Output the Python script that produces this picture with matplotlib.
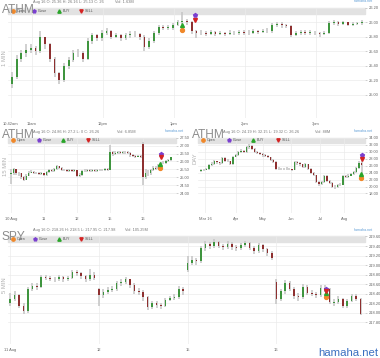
import matplotlib
matplotlib.use("Agg")
import matplotlib.pyplot as plt
import numpy as np
from matplotlib.patches import Rectangle
from matplotlib.lines import Line2D

W, H = 380, 358

# ---- ATHM 1 min (x in minutes after midnight, one candle per 4 min)
t1 = np.arange(643, 643 + 4 * 75, 4)
c1 = [25.25, 25.5, 25.58, 25.62, 25.65, 25.6, 25.8, 25.7, 25.5, 25.3,
      25.2, 25.4, 25.48, 25.58, 25.58, 25.5, 25.75, 25.82, 25.78, 25.86,
      25.88, 25.8, 25.82, 25.78, 25.82, 25.84, 25.84, 25.8, 25.66, 25.74,
      25.85, 25.94, 25.93, 25.93, 25.97, 26.0, 26.02, 26.0, 25.88, 25.85,
      25.86, 25.84, 25.87, 25.84, 25.85, 25.84, 25.86, 25.85, 25.87, 25.85,
      25.86, 25.88, 25.87, 25.88, 25.88, 25.96, 25.98, 25.96, 25.95, 25.83,
      25.85, 25.87, 25.86, 25.86, 25.85, 25.84, 25.86, 25.99, 26.0, 25.98,
      26.0, 25.97, 25.98, 25.99, 26.0]
hi1 = [25.32, 25.55, 25.62, 25.7, 25.7, 25.68, 25.88, 25.8, 25.72, 25.52,
       25.32, 25.44, 25.52, 25.62, 25.64, 25.6, 25.78, 25.86, 25.84, 25.9,
       25.92, 25.9, 25.86, 25.84, 25.86, 25.88, 25.88, 25.86, 25.82, 25.78,
       25.88, 25.96, 25.97, 25.96, 25.99, 26.03, 26.15, 26.05, 26.02, 25.9,
       25.89, 25.88, 25.9, 25.88, 25.88, 25.87, 25.89, 25.88, 25.9, 25.89,
       25.89, 25.91, 25.9, 25.91, 25.92, 25.99, 26.01, 26.0, 25.98, 25.96,
       25.88, 25.9, 25.89, 25.89, 25.88, 25.87, 25.88, 26.02, 26.03, 26.02,
       26.02, 26.01, 26.0, 26.01, 26.03]
lo1 = [25.1, 25.22, 25.45, 25.52, 25.58, 25.55, 25.58, 25.64, 25.45, 25.25,
       25.15, 25.18, 25.36, 25.45, 25.52, 25.45, 25.48, 25.7, 25.74, 25.75,
       25.82, 25.77, 25.78, 25.74, 25.76, 25.79, 25.8, 25.76, 25.6, 25.63,
       25.72, 25.83, 25.9, 25.9, 25.9, 25.95, 25.98, 25.96, 25.84, 25.79,
       25.82, 25.81, 25.82, 25.81, 25.82, 25.81, 25.82, 25.82, 25.83, 25.82,
       25.83, 25.84, 25.84, 25.85, 25.85, 25.86, 25.94, 25.93, 25.92, 25.8,
       25.81, 25.83, 25.83, 25.83, 25.82, 25.8, 25.82, 25.84, 25.96, 25.95,
       25.96, 25.95, 25.95, 25.96, 25.97]
gap1 = {0: 25.15}
m1_x = [787, 798, 787, 798]            # open, close, buy, sell
m1_y = [25.89, 26.10, 25.96, 26.04]
x1_ticks = [642, 660, 720, 780, 840, 900]
x1_labels = ["10:42am", "11am", "12pm", "1pm", "2pm", "3pm"]

# ---- ATHM 15 min (13 candles per day)
c2 = [25.3, 25.5, 25.3, 25.25, 25.0, 24.85, 25.1, 25.3, 25.35, 25.25, 25.28, 25.22, 25.25,
      25.15, 25.35, 25.45, 25.42, 25.5, 25.7, 25.6, 25.45, 25.48, 25.42, 25.45, 25.4, 25.45,
      25.1, 25.15, 25.4, 25.42, 25.45, 25.4, 25.45, 25.42, 25.45, 25.48, 25.45, 25.5, 25.48,
      26.6, 26.45, 26.55, 26.6, 26.55, 26.6, 26.58, 26.55, 26.4, 26.35, 26.3, 26.35, 26.3,
      25.0, 25.3, 25.25, 25.45, 25.6, 25.55, 25.8, 25.9, 25.92, 26.05, 26.1, 26.26]
hi2 = [25.55, 25.6, 25.55, 25.35, 25.3, 25.05, 25.2, 25.38, 25.45, 25.38, 25.35, 25.32, 25.32,
       25.3, 25.42, 25.52, 25.52, 25.58, 25.78, 25.72, 25.62, 25.55, 25.52, 25.52, 25.5, 25.5,
       25.45, 25.25, 25.45, 25.5, 25.52, 25.5, 25.5, 25.5, 25.52, 25.55, 25.55, 25.56, 25.56,
       27.05, 26.65, 26.65, 26.68, 26.66, 26.68, 26.66, 26.64, 26.58, 26.45, 26.42, 26.42, 26.4,
       27.2, 25.5, 25.45, 25.55, 25.7, 25.7, 25.85, 25.95, 26.0, 26.1, 26.15, 26.3]
lo2 = [24.55, 25.15, 25.15, 25.1, 24.9, 24.75, 24.82, 25.05, 25.25, 25.18, 25.18, 25.12, 25.15,
       25.05, 25.1, 25.3, 25.35, 25.35, 25.45, 25.5, 25.4, 25.38, 25.35, 25.35, 25.32, 25.35,
       25.0, 25.02, 25.1, 25.32, 25.35, 25.32, 25.35, 25.35, 25.35, 25.38, 25.38, 25.4, 25.4,
       25.45, 26.35, 26.4, 26.48, 26.45, 26.5, 26.48, 26.45, 26.3, 26.28, 26.2, 26.25, 26.22,
       24.5, 24.9, 25.1, 25.15, 25.4, 25.45, 25.5, 25.75, 25.82, 25.85, 25.98, 26.05]
gap2 = {0: 25.2, 52: 27.1}
m2_x = [58.6, 59.1, 58.6, 59.1]
m2_y = [25.6, 26.48, 25.85, 26.27]
x2_ticks = [0, 13, 26, 39, 52]
x2_labels = ["10 Aug", "11", "12", "15", "16"]

# ---- ATHM daily (one candle per 2 sessions)
c3 = [24.6, 24.8, 25.0, 26.2, 26.5, 27.2, 26.9, 26.6, 28.3, 27.4,
      27.3, 26.5, 28.6, 28.9, 29.8, 30.3, 29.9, 31.2, 31.7, 30.9,
      29.9, 29.7, 29.3, 29.0, 28.7, 28.5, 27.6, 27.0, 25.0, 25.1,
      24.9, 25.0, 25.1, 24.9, 24.7, 26.9, 26.7, 26.4, 25.6, 26.4,
      25.0, 24.0, 23.2, 21.2, 20.6, 21.2, 23.0, 21.5, 21.0, 20.0,
      19.8, 20.3, 20.5, 23.0, 22.6, 23.1, 23.6, 24.2, 25.3, 26.8,
      26.26]
hi3 = [25.0, 25.1, 25.3, 26.5, 26.9, 27.6, 27.4, 27.1, 28.6, 28.4,
       27.8, 27.4, 28.8, 29.3, 30.1, 30.8, 30.5, 31.5, 32.15, 31.8,
       31.0, 30.2, 29.8, 29.6, 29.2, 28.9, 28.6, 27.8, 27.2, 25.5,
       25.4, 25.4, 25.5, 25.3, 25.1, 27.2, 27.3, 27.0, 26.5, 26.7,
       26.5, 25.2, 24.2, 23.4, 21.5, 21.6, 23.4, 23.2, 21.8, 21.2,
       20.4, 20.6, 20.9, 23.3, 23.3, 23.5, 24.0, 24.5, 25.6, 27.2,
       28.3]
lo3 = [24.3, 24.4, 24.6, 24.8, 26.0, 26.3, 26.5, 26.2, 26.4, 27.1,
       26.9, 26.2, 26.3, 28.4, 28.7, 29.5, 29.6, 29.7, 30.9, 30.5,
       29.6, 29.3, 28.9, 28.6, 28.4, 28.2, 27.3, 26.7, 24.7, 24.7,
       24.6, 24.6, 24.7, 24.6, 24.4, 24.6, 26.3, 26.0, 25.3, 25.4,
       24.7, 23.7, 22.9, 20.9, 20.2, 20.3, 21.0, 21.2, 20.6, 19.6,
       19.32, 19.6, 20.1, 20.3, 22.3, 22.4, 22.9, 23.4, 24.0, 25.1,
       23.2]
gap3 = {0: 24.4}
m3_x = [59.6, 59.95, 59.6, 59.95]
m3_y = [22.5, 28.9, 23.6, 27.9]
x3_ticks = [1.5, 13.1, 23.1, 33.6, 44.4, 53.4]
x3_labels = ["Mar 16", "Apr", "May", "Jun", "Jul", "Aug"]

# ---- SPY 5 min (20 candles per day)
c4 = [218.3, 218.38, 218.15, 218.05, 218.5, 218.56, 218.55, 218.75, 218.74, 218.72,
      218.7, 218.76, 218.7, 218.74, 218.86, 218.84, 218.77, 218.7, 218.8, 218.74,
      218.38, 218.44, 218.49, 218.5, 218.62, 218.64, 218.7, 218.58, 218.46, 218.44,
      218.33, 218.12, 218.2, 218.16, 218.14, 218.27, 218.32, 218.34, 218.5, 218.45,
      219.05, 219.1, 219.08, 219.35, 219.45, 219.4, 219.48, 219.4, 219.38, 219.45,
      219.38, 219.36, 219.42, 219.46, 219.36, 219.3, 219.42, 219.33, 219.26, 219.15,
      218.3, 218.45, 218.62, 218.5, 218.36, 218.33, 218.55, 218.42, 218.4, 218.38,
      218.52, 218.5, 218.22, 218.22, 218.3, 218.15, 218.25, 218.36, 218.3, 217.98]
hi4 = [218.42, 218.45, 218.4, 218.2, 218.55, 218.62, 218.62, 218.8, 218.8, 218.78,
       218.76, 218.8, 218.78, 218.78, 218.9, 218.9, 218.86, 218.8, 218.92, 218.85,
       218.52, 218.5, 218.54, 218.56, 218.66, 218.7, 218.75, 218.72, 218.62, 218.52,
       218.48, 218.36, 218.26, 218.24, 218.2, 218.32, 218.36, 218.4, 218.56, 218.55,
       219.2, 219.2, 219.15, 219.4, 219.5, 219.48, 219.54, 219.5, 219.44, 219.5,
       219.48, 219.42, 219.46, 219.5, 219.48, 219.4, 219.46, 219.45, 219.36, 219.3,
       218.7, 218.5, 218.68, 218.66, 218.54, 218.42, 218.6, 218.58, 218.48, 218.44,
       218.58, 218.58, 218.52, 218.3, 218.35, 218.32, 218.3, 218.4, 218.4, 218.32]
lo4 = [218.15, 218.25, 218.1, 217.98, 218.0, 218.45, 218.48, 218.52, 218.68, 218.66,
       218.64, 218.66, 218.64, 218.66, 218.7, 218.78, 218.72, 218.64, 218.66, 218.68,
       218.15, 218.32, 218.4, 218.44, 218.46, 218.56, 218.6, 218.52, 218.4, 218.38,
       218.26, 218.06, 218.08, 218.1, 218.08, 218.12, 218.24, 218.28, 218.3, 218.38,
       218.85, 219.0, 219.0, 219.04, 219.3, 219.34, 219.36, 219.35, 219.32, 219.34,
       219.32, 219.3, 219.32, 219.38, 219.32, 219.24, 219.26, 219.28, 219.2, 219.1,
       218.18, 218.24, 218.4, 218.45, 218.3, 218.26, 218.3, 218.38, 218.35, 218.32,
       218.34, 218.44, 218.18, 218.15, 218.18, 218.1, 218.1, 218.22, 218.26, 217.95]
gap4 = {0: 218.2, 20: 218.5, 40: 218.9, 60: 218.65}
m4_x = [71.3, 71.3, 71.3, 71.3]
m4_y = [218.33, 218.51, 218.42, 218.45]
x4_ticks = [0, 20, 40, 60]
x4_labels = ["11 Aug", "12", "15", "16"]

UP, DOWN, WICK = "#3f953f", "#8e3030", "#c4c4c4"
MK = [("o", "#f0882a"), ("p", "#7a3fcf"), ("^", "#2aa52a"), ("v", "#d42424")]
LEG = ["Open", "Close", "BUY", "SELL"]

plt.rcParams["font.family"] = ["Liberation Sans", "DejaVu Sans"]
fig = plt.figure(figsize=(3.8, 3.58), dpi=100)
fig.patch.set_facecolor("white")


def fx(x):
    return x / W


def fy(y):
    return 1 - y / H


def box(x0, y0, x1, y1):
    return [x0 / W, 1 - y1 / H, (x1 - x0) / W, (y1 - y0) / H]


def candles(ax, xs, closes, highs, lows, gaps, width, pad):
    opens = [closes[0]] + list(closes[:-1])
    for i, v in gaps.items():
        opens[i] = v
    for x, o, c, h, l in zip(xs, opens, closes, highs, lows):
        ax.vlines(x, min(l, o, c), max(h, o, c), color=WICK, lw=1.1, zorder=2)
        b, t = min(o, c), max(o, c)
        if t - b < pad:
            b, t = (b + t) / 2 - pad / 2, (b + t) / 2 + pad / 2
        ax.bar(x, t - b, width, bottom=b, color=UP if c >= o else DOWN, lw=0, zorder=3)


def style(ax, xlim, ylim, yticks, xticks, xlabels):
    ax.set_xlim(*xlim)
    ax.set_ylim(*ylim)
    ax.yaxis.tick_right()
    ax.set_yticks(yticks)
    ax.set_yticklabels([f"{v:.2f}" for v in yticks])
    ax.set_xticks(xticks)
    ax.set_xticklabels(xlabels)
    ax.grid(color="#ebebeb", lw=0.5)
    ax.set_axisbelow(True)
    for s in ax.spines.values():
        s.set_visible(False)
    ax.patch.set_visible(False)
    ax.tick_params(axis="y", length=1.5, width=0.4, color="#aaaaaa", pad=1,
                   labelsize=2.9, labelcolor="#666666")
    ax.tick_params(axis="x", length=0, pad=3, labelsize=2.9, labelcolor="#666666")


def header(x0, x1, top, base, sym, info, vol_x, vol, offs, ylab, ylab_pos):
    fig.add_artist(Rectangle((fx(x0), fy(top + 5.5)), (x1 - x0) / W, 5.5 / H,
                             transform=fig.transFigure, color="#e2e2e2", zorder=-5))
    fig.text(fx(x0 - 6), fy(base), sym, fontsize=8.6, color="#8c8c8c", va="baseline")
    fig.text(fx(x0 + 25), fy(top - 6), info, fontsize=2.8, color="#777777", va="center")
    fig.text(fx(vol_x), fy(top - 6), vol, fontsize=2.8, color="#777777", va="center")
    fig.text(fx(x1 + 8), fy(top - 6.5), "hamaha.net", fontsize=2.6, color="#5b9bd5",
             va="center", ha="right")
    for (m, col), lab, o in zip(MK, LEG, offs):
        fig.add_artist(Line2D([fx(x0 + o)], [fy(top + 2.8)], marker=m, color=col, ms=2.4,
                              lw=0, transform=fig.transFigure))
        fig.text(fx(x0 + o + 3.5), fy(top + 2.8), lab, fontsize=2.6, color="#555555", va="center")
    fig.text(fx(ylab_pos[0]), fy(ylab_pos[1]), ylab, fontsize=4.2, color="#b0b0b0",
             rotation=90, ha="center", va="center")


def marks(ax, xs, ys):
    for (m, col), x, y in zip(MK, xs, ys):
        ax.plot(x, y, marker=m, color=col, ms=2.8, lw=0, zorder=6)


# panel 1
ax1 = fig.add_axes(box(8, 8, 365, 118))
candles(ax1, t1, c1, hi1, lo1, gap1, 1.5, 0.006)
marks(ax1, m1_x, m1_y)
style(ax1, (639.7, 941.4), (24.68, 26.2), np.round(np.arange(25.0, 26.21, 0.2), 2),
      x1_ticks, x1_labels)
header(8, 365, 8, 13, "ATHM", "Aug 16 O: 25.36 H: 26.16 L: 25.13 C: 26", 115, "Vol: 1.63M",
       [5, 26, 51, 73], "1 MIN", (5, 58))

# panel 2
ax2 = fig.add_axes(box(8, 137.7, 176, 213))
candles(ax2, np.arange(len(c2)), c2, hi2, lo2, gap2, 0.5, 0.03)
marks(ax2, m2_x, m2_y)
style(ax2, (-1.18, 64.96), (22.74, 27.5), np.arange(24.0, 27.51, 0.5), x2_ticks, x2_labels)
header(8, 176, 137.7, 138.3, "ATHM", "Aug 16 O: 24.86 H: 27.2 L: 0 C: 26.26", 117, "Vol: 6.85M",
       [5, 31, 55, 80], "15 MIN", (5.5, 167))

# panel 3
ax3 = fig.add_axes(box(198, 137.7, 365, 213))
candles(ax3, np.arange(len(c3)), c3, hi3, lo3, gap3, 0.5, 0.12)
marks(ax3, m3_x, m3_y)
style(ax3, (-1.1, 61.2), (12.4, 34.0), np.arange(18.0, 34.01, 2.0), x3_ticks, x3_labels)
header(198, 365, 137.7, 138.3, "ATHM", "Aug 16 O: 24.19 H: 32.15 L: 19.32 C: 26.26", 315, "Vol: 88M",
       [5, 31, 55, 80], "DAY", (195, 158))

# panel 4
ax4 = fig.add_axes(box(8, 236, 365, 344))
candles(ax4, np.arange(len(c4)), c4, hi4, lo4, gap4, 0.36, 0.01)
marks(ax4, m4_x, m4_y)
style(ax4, (-0.5, 80), (217.35, 219.61), np.round(np.arange(217.8, 219.61, 0.2), 2),
      x4_ticks, x4_labels)
header(8, 365, 236.3, 239.7, "SPY", "Aug 16 O: 218.26 H: 218.5 L: 217.95 C: 217.98", 125,
       "Vol: 105.25M", [5, 27, 51, 73], "5 MIN", (4.5, 285))

fig.text(fx(378), fy(356), "hamaha.net", fontsize=8.2, color="#3a6fc0", ha="right", va="baseline")

fig.savefig("out.png", dpi=100)
